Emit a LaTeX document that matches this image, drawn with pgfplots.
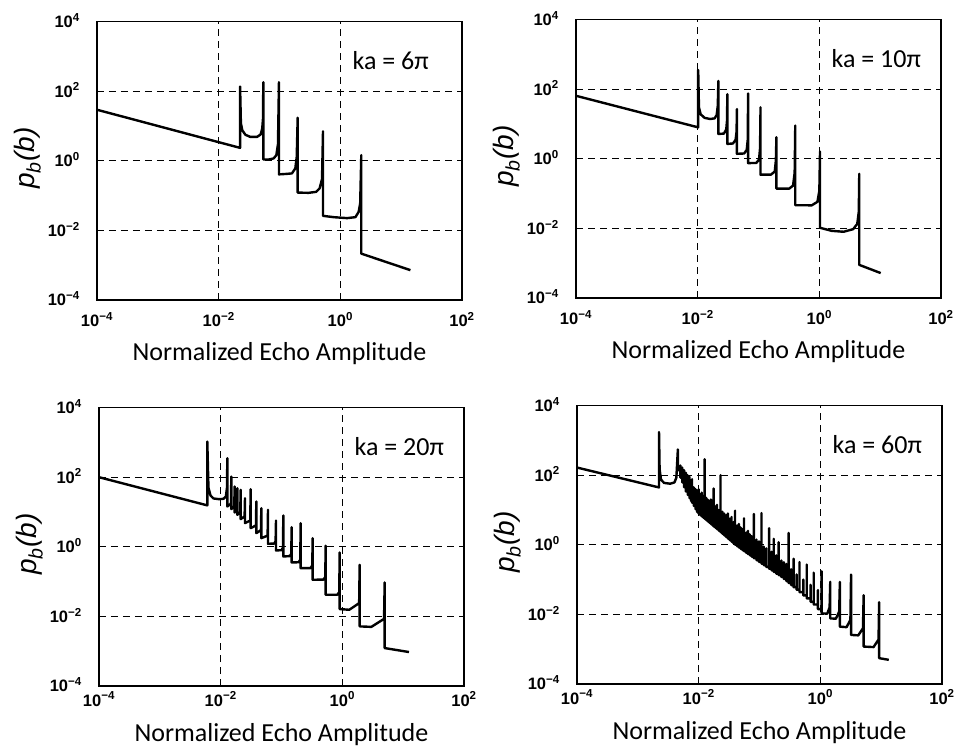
\documentclass[border=0pt]{standalone}
\usepackage{fontspec}
\setmainfont{Carlito}
\newfontfamily\tickfont{Liberation Sans}
\usepackage{pgfplots}
\pgfplotsset{compat=1.18}
\newcommand{\tl}[1]{10\textsuperscript{#1}}
\pgfplotsset{
  every axis/.append style={
    xmode=log, ymode=log,
    scale only axis, width=365pt, height=278.4pt,
    anchor=south west,
    xmin=1e-4, xmax=1e2, ymin=1e-4, ymax=1e4,
    xtick={1e-4,1e-2,1,1e2}, ytick={1e-4,1e-2,1,1e2,1e4},
    xticklabels={\tl{−4},\tl{−2},\tl{0},\tl{2}},
    yticklabels={\tl{−4},\tl{−2},\tl{0},\tl{2},\tl{4}},
    xminorticks=false, yminorticks=false,
    major tick length=0pt,
    xmajorgrids=true, ymajorgrids=true,
    major grid style={black, line width=1.0pt, dash pattern=on 7pt off 5pt},
    axis line style={black, line width=1.5pt},
    tick label style={font=\tickfont\bfseries\fontsize{16.5}{18}\selectfont, inner sep=0pt},
    xticklabel style={anchor=base, yshift=-27pt},
    yticklabel style={anchor=base east, xshift=-17pt, yshift=-5.9pt},
    xlabel={Normalized Echo Amplitude},
    ylabel={\tickfont\itshape p\textsubscript{b}(b)},
    label style={font=\fontsize{26}{30}\selectfont},
    xlabel style={at={(axis description cs:0.5,0)}, anchor=base, yshift=-61pt, inner sep=0pt},
    ylabel style={at={(axis description cs:-0.17,0.51)}, anchor=base, inner sep=0pt, font=\fontsize{28}{32}\selectfont},
  },
  bottomrow/.style={
    xticklabel style={yshift=7pt},
    xlabel style={yshift=6pt},
  },
}
\newcommand{\kalabel}[1]{\node[anchor=base west, inner sep=0pt, font=\fontsize{26}{30}\selectfont] at (rel axis cs:0.70,0.827) {#1};}
\begin{document}
\begin{tikzpicture}
\path[use as bounding box] (0,0) rectangle (960pt,751pt);
% ---------------- ka = 6pi
\begin{axis}[at={(97pt,451pt)}]
\addplot[black, line width=2.4pt, line join=round, mark=none] coordinates {
(1e-4,29.3) (0.0225,2.35) (0.0225,136) (0.0232,12) (0.0245,7.5) (0.0275,5.6)
(0.0332,4.85) (0.0427,4.85) (0.049,5.7) (0.052,8.5) (0.0535,16) (0.0542,181)
(0.0542,1.09) (0.065,1.08) (0.0802,1.17) (0.0887,1.45) (0.0944,3.0) (0.098,181)
(0.098,0.407) (0.13,0.42) (0.16,0.434) (0.182,0.604) (0.192,1.3) (0.199,17.3)
(0.199,0.122) (0.30,0.120) (0.40,0.128) (0.457,0.162) (0.50,0.30) (0.519,7.05)
(0.519,0.0262) (0.776,0.024) (1.29,0.0225) (1.77,0.024) (2.0,0.034) (2.12,0.06)
(2.21,1.45) (2.21,0.00215) (14.2,7.2e-4)
};
\kalabel{ka = 6π}
\end{axis}
% ---------------- ka = 10pi
\begin{axis}[at={(576pt,453pt)}]
\addplot[black, line width=2.4pt, line join=round, mark=none] coordinates {
(1e-4,64.6) (0.0102,8.0) (0.0102,357) (0.0105,30) (0.0112,19) (0.013,15)
(0.016,13.9) (0.019,14.5) (0.0205,18) (0.0214,33) (0.0219,173) (0.0219,5.18)
(0.027,5.3) (0.0295,7) (0.0303,12) (0.0308,72) (0.0308,2.68)
(0.038,2.75) (0.042,3.5) (0.0436,6) (0.0442,26.8) (0.0442,1.39)
(0.058,1.42) (0.064,1.8) (0.0665,3.5) (0.0675,75) (0.0675,0.752)
(0.092,0.76) (0.102,0.95) (0.106,2) (0.108,30) (0.108,0.349)
(0.16,0.35) (0.185,0.43) (0.193,0.9) (0.197,4.16) (0.197,0.139)
(0.32,0.139) (0.37,0.17) (0.393,0.4) (0.402,8.96) (0.402,0.0464)
(0.75,0.046) (0.93,0.058) (1.0,0.12) (1.026,1.62) (1.026,0.0104)
(1.6,0.0085) (2.5,0.008) (3.6,0.0095) (4.2,0.0135) (4.45,0.03) (4.53,0.372)
(4.53,8.95e-4) (10.2,5.2e-4)
};
\kalabel{ka = 10π}
\end{axis}
% ---------------- ka = 20pi
\begin{axis}[bottomrow, at={(99pt,65pt)}]
\addplot[black, line width=2.4pt, line join=round, mark=none] coordinates {
(1e-4,100) (0.00603,15.5) (0.00603,1057) (0.0063,50) (0.0068,30) (0.0076,24.5)
(0.0095,23.3) (0.0112,24) (0.0122,28) (0.0127,50) (0.01287,351) (0.01287,14.4)
(0.01475,17.3) (0.01497,104) (0.01497,12.1)
(0.01673,14.5) (0.01698,54) (0.01698,9.68)
(0.0185,11.6) (0.01879,48.3) (0.01879,8.30)
(0.0210,10.0) (0.02132,43.3) (0.02132,6.23)
(0.02474,7.5) (0.02512,24.9) (0.02512,4.78)
(0.03065,5.7) (0.03112,45.3) (0.03112,3.43)
(0.0380,4.1) (0.03858,20.0) (0.03858,2.47)
(0.0459,3.0) (0.04661,12.9) (0.04661,1.77)
(0.0591,2.1) (0.060,11.5) (0.060,1.22)
(0.076,1.24) (0.080,1.46) (0.08121,5.70) (0.08121,0.785)
(0.100,0.80) (0.1056,0.94) (0.1072,7.94) (0.1072,0.528)
(0.137,0.54) (0.1447,0.63) (0.1469,3.67) (0.1469,0.355)
(0.192,0.36) (0.2034,0.43) (0.2065,4.78) (0.2065,0.244)
(0.30,0.245) (0.3204,0.29) (0.3253,1.77) (0.3253,0.113)
(0.49,0.114) (0.524,0.136) (0.5321,1.07) (0.5321,0.0419)
(0.83,0.042) (0.89,0.050) (0.9041,0.687) (0.9041,0.01626)
(1.3,0.0155) (1.89,0.024) (1.927,0.304) (1.927,0.00516)
(3.0,0.005) (4.85,0.0085) (4.966,0.0946) (4.966,0.00123)
(12.47,9.46e-4)
};
\kalabel{ka = 20π}
\end{axis}
% ---------------- ka = 60pi
\begin{axis}[bottomrow, at={(577pt,67pt)}]
\addplot[black, line width=2.4pt, line join=round, mark=none] coordinates {
(1e-4,166) (0.00223,44.5) (0.00223,1730) (0.00228,150) (0.0024,75) (0.0027,60)
(0.0034,57) (0.004,62) (0.0043,85) (0.00455,553) (0.00455,140)
(0.00501,140) (0.00501,190) (0.00501,85.5)
(0.00537,85.5) (0.00537,166) (0.00537,62.4)
(0.00575,62.4) (0.00575,141) (0.00575,45.4)
(0.00617,45.4) (0.00617,117) (0.00617,33.9)
(0.00661,33.9) (0.00661,100) (0.00661,27.2)
(0.00708,27.2) (0.00708,89.1) (0.00708,21.8)
(0.0075,21.8) (0.0075,63.1) (0.0075,18.2)
(0.00778,18.2) (0.00778,76.9) (0.00778,16.2)
(0.00832,16.2) (0.00832,44.7) (0.00832,13.1)
(0.00891,13.1) (0.00891,39.8) (0.00891,10.5)
(0.00944,10.5) (0.00944,35.5) (0.00944,8.77)
(0.0100,8.77) (0.0100,39.8) (0.0100,7.76)
(0.01059,7.76) (0.01059,28.2) (0.01059,7.14)
(0.01122,7.14) (0.01122,31.6) (0.01122,6.56)
(0.01189,6.56) (0.01189,25.1) (0.01189,6.03)
(0.01253,6.03) (0.01253,286) (0.01253,5.57)
(0.01334,5.57) (0.01334,22.4) (0.01334,5.08)
(0.01413,5.08) (0.01413,20.0) (0.01413,4.67)
(0.01496,4.67) (0.01496,17.8) (0.01496,4.29)
(0.01585,4.29) (0.01585,20.0) (0.01585,3.94)
(0.01679,3.94) (0.01679,15.8) (0.01679,3.61)
(0.01758,3.61) (0.01758,41.6) (0.01758,3.38)
(0.01884,3.38) (0.01884,12.6) (0.01884,3.05)
(0.01995,3.05) (0.01995,14.1) (0.01995,2.81)
(0.02138,2.81) (0.02138,10.0) (0.02138,2.54)
(0.02286,2.54) (0.02286,100) (0.02286,2.29)
(0.02455,2.29) (0.02455,8.91) (0.02455,2.06)
(0.0263,2.06) (0.0263,7.94) (0.0263,1.85)
(0.02818,1.85) (0.02818,7.08) (0.02818,1.67)
(0.0302,1.67) (0.0302,7.94) (0.0302,1.51)
(0.03236,1.51) (0.03236,5.62) (0.03236,1.36)
(0.03467,1.36) (0.03467,6.31) (0.03467,1.22)
(0.03715,1.22) (0.03715,4.47) (0.03715,1.10)
(0.03963,1.10) (0.03963,9.57) (0.03963,1.00)
(0.04266,1.00) (0.04266,3.55) (0.04266,0.912)
(0.04571,0.912) (0.04571,3.98) (0.04571,0.838)
(0.04898,0.838) (0.04898,3.16) (0.04898,0.767)
(0.05248,0.767) (0.05248,2.82) (0.05248,0.705)
(0.05559,0.705) (0.05559,5.78) (0.05559,0.656)
(0.06026,0.656) (0.06026,2.24) (0.06026,0.593)
(0.06457,0.593) (0.06457,2.51) (0.06457,0.543)
(0.06918,0.543) (0.06918,2.0) (0.06918,0.499)
(0.07413,0.499) (0.07413,1.78) (0.07413,0.458)
(0.08091,0.458) (0.08091,7.69) (0.08091,0.410)
(0.08913,0.410) (0.08913,1.41) (0.08913,0.363)
(0.09772,0.363) (0.09772,1.26) (0.09772,0.324)
(0.1079,0.324) (0.1079,8.20) (0.1079,0.286)
(0.1175,0.286) (0.1175,0.891) (0.1175,0.259)
(0.1288,0.259) (0.1288,0.794) (0.1288,0.233)
(0.1439,0.233) (0.1439,2.99) (0.1439,0.205)
(0.1585,0.205) (0.1585,0.631) (0.1585,0.183)
(0.1714,0.183) (0.1714,1.48) (0.1714,0.167)
(0.1884,0.167) (0.1884,0.501) (0.1884,0.149)
(0.2065,0.149) (0.2065,1.19) (0.2065,0.134)
(0.2291,0.134) (0.2291,0.355) (0.2291,0.119)
(0.2512,0.119) (0.2512,0.316) (0.2512,0.104)
(0.2754,0.104) (0.2754,0.282) (0.2754,0.0908)
(0.3006,0.0908) (0.3006,2.20) (0.3006,0.0798)
(0.3311,0.0798) (0.3311,0.20) (0.3311,0.0693)
(0.3631,0.0693) (0.3631,0.398) (0.3631,0.0607)
(0.4074,0.0607) (0.4074,0.141) (0.4074,0.0513)
(0.455,0.0513) (0.455,0.320) (0.455,0.0437)
(0.5248,0.0437) (0.5248,0.10) (0.5248,0.0352)
(0.5984,0.0352) (0.5984,0.269) (0.5984,0.0288)
(0.6918,0.0288) (0.6918,0.0708) (0.6918,0.0230)
(0.778,0.0230) (0.778,0.158) (0.778,0.0192)
(0.912,0.0192) (0.912,0.0501) (0.912,0.0142)
(1.052,0.0142) (1.052,0.173) (1.052,0.0107)
(1.3,0.0105) (1.42,0.016) (1.455,0.0857) (1.455,0.00769)
(1.8,0.0075) (2.04,0.012) (2.094,0.0857) (2.094,0.00445)
(2.7,0.0043) (3.12,0.007) (3.199,0.139) (3.199,0.00257)
(4.2,0.0025) (5.02,0.004) (5.152,0.0356) (5.152,0.00119)
(7.5,0.00115) (9.05,0.0019) (9.268,0.0225) (9.268,5.53e-4)
(13.34,4.95e-4)
};
\kalabel{ka = 60π}
\end{axis}
\end{tikzpicture}
\end{document}
